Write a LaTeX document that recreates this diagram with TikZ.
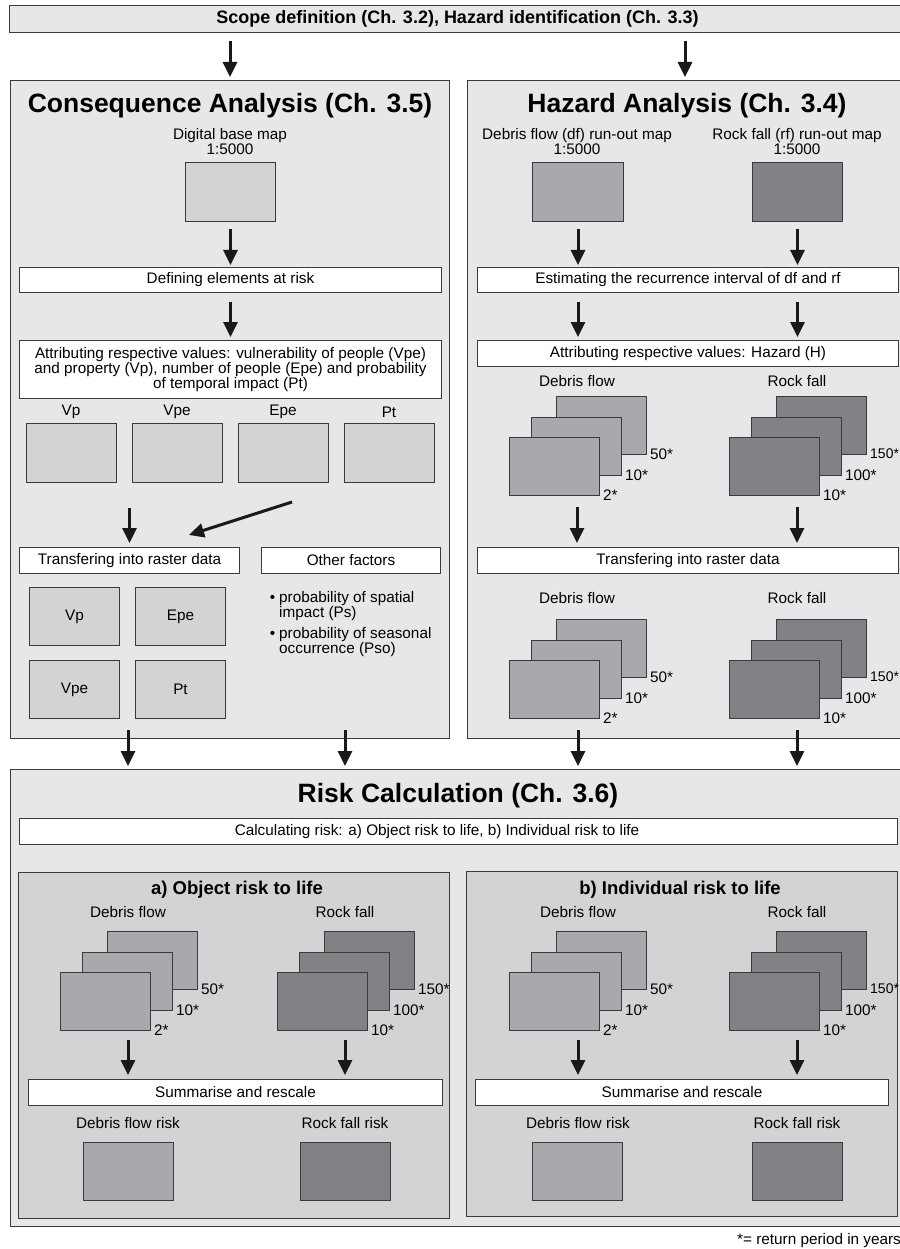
\documentclass[tikz,border=0pt]{standalone}
\usepackage{fontspec}
\setmainfont{Liberation Sans}
\usetikzlibrary{arrows.meta,calc}
\definecolor{panel}{HTML}{E6E7E8}
\definecolor{subp}{HTML}{D1D3D4}
\definecolor{deb}{HTML}{A7A9AC}
\definecolor{rockc}{HTML}{808285}
\definecolor{edge}{HTML}{3A3A3A}
\setlength\lineskiplimit{-8pt}
\newcommand\mapstack[7]{%
  \node[map,fill=#4] (#1b) at ({#2+47},{#3-41}) {};
  \node[map,fill=#4] (#1m) at ({#2+22},{#3-20}) {};
  \node[map,fill=#4] (#1f) at (#2,#3) {};
  \node[stl] (#1bl) at ([xshift=3pt,yshift=1pt]#1b.south east) {#5};
  \node[stl] (#1ml) at ([xshift=3pt,yshift=1pt]#1m.south east) {#6};
  \node[stl] (#1fl) at ([xshift=3pt,yshift=1pt]#1f.south east) {#7};
}
\newcommand\smalllab[1]{{\fontsize{14}{15}\selectfont #1}}
\begin{document}
\begin{tikzpicture}[x=1pt,y=-1pt,
  font=\fontsize{15.3}{15}\selectfont,
  box/.style={draw=edge,line width=1pt,anchor=north west,inner sep=0pt,align=center},
  wbox/.style={box,fill=white},
  map/.style={box,minimum width=90pt,minimum height=58pt},
  arr/.style={line width=3pt,draw=black!90,-{Triangle[length=15pt,width=14pt]}},
  lbl/.style={inner sep=0pt,align=center},
  stl/.style={inner sep=0pt,anchor=west},
  ttl/.style={inner sep=0pt,font=\fontsize{26.5}{28}\selectfont\bfseries},
  subttl/.style={inner sep=0pt,font=\fontsize{18.5}{20}\selectfont\bfseries},
]
\useasboundingbox[fill=white] (0,0) rectangle (899,1249);

% ---------- top bar ----------
\node[box,fill=panel,minimum width=896pt,minimum height=27pt,
      font=\fontsize{18}{20}\selectfont\bfseries] (bar) at (9,5)
      {Scope definition (Ch. 3.2), Hazard identification (Ch. 3.3)};

% ---------- panels ----------
\node[box,fill=panel,minimum width=439pt,minimum height=658pt] (cons) at (10,80) {};
\node[box,fill=panel,minimum width=438pt,minimum height=658pt] (haz) at (467,80) {};
\node[box,fill=panel,minimum width=895pt,minimum height=457pt] (risk) at (10,769) {};
\node[box,fill=subp,minimum width=431pt,minimum height=346pt] (suba) at (18,872) {};
\node[box,fill=subp,minimum width=431pt,minimum height=345pt] (subb) at (466,871) {};

% ---------- consequence analysis ----------
\node[ttl] (ctitle) at (230,105.5) {Consequence Analysis (Ch. 3.5)};
\node[lbl] (bmlab) at (230,142) {Digital base map\\1:5000};
\node[map,fill=subp,minimum width=90pt,minimum height=59pt] (bm) at (185,162) {};
\node[wbox,minimum width=422pt,minimum height=25pt] (def) at (19,267) {Defining elements at risk};
\node[wbox,minimum width=422pt,minimum height=58pt] (att) at (19,340)
  {Attributing respective values: vulnerability of people (Vpe)\\and property (Vp), number of people (Epe) and probability\\of temporal impact (Pt)};
\node[lbl] (lvp) at (71,412) {Vp};
\node[lbl] (lvpe) at (177,412) {Vpe};
\node[lbl] (lepe) at (283,412) {Epe};
\node[lbl] (lpt) at (389,412) {Pt};
\node[map,fill=subp,minimum height=59pt] (rvp) at (26,423) {};
\node[map,fill=subp,minimum height=59pt] (rvpe) at (132,423) {};
\node[map,fill=subp,minimum height=59pt] (repe) at (238,423) {};
\node[map,fill=subp,minimum height=59pt] (rpt) at (344,423) {};
\node[wbox,minimum width=220pt,minimum height=26pt] (ctr) at (19,547) {Transfering into raster data};
\node[wbox,minimum width=179pt,minimum height=26pt] (oth) at (261,547) {Other factors};
\node[map,fill=subp] (gvp) at (29,587) {Vp};
\node[map,fill=subp] (gepe) at (135,587) {Epe};
\node[map,fill=subp] (gvpe) at (29,660) {Vpe};
\node[map,fill=subp] (gpt) at (135,660) {Pt};
\node[inner sep=0pt,anchor=base] (bul1) at (272.5,602.5) {\textbullet};
\node[inner sep=0pt,anchor=north west,align=left] (ps) at (279,591) {probability of spatial\\impact (Ps)};
\node[inner sep=0pt,anchor=base] (bul2) at (272.5,638.5) {\textbullet};
\node[inner sep=0pt,anchor=north west,align=left] (pso) at (279,627) {probability of seasonal\\occurrence (Pso)};

% ---------- hazard analysis ----------
\node[ttl] (htitle) at (687,105.5) {Hazard Analysis (Ch. 3.4)};
\node[lbl] (dflab) at (577,142) {Debris flow (df) run-out map\\1:5000};
\node[lbl] (rflab) at (797,142) {Rock fall (rf) run-out map\\1:5000};
\node[map,fill=deb,minimum width=91pt,minimum height=59pt] (dfmap) at (532,162) {};
\node[map,fill=rockc,minimum width=90pt,minimum height=59pt] (rfmap) at (752,162) {};
\node[wbox,minimum width=421pt,minimum height=25pt] (est) at (477,267) {Estimating the recurrence interval of df and rf};
\node[wbox,minimum width=421pt,minimum height=26pt] (atth) at (477,340) {Attributing respective values: Hazard (H)};
\node[lbl] (hdf1) at (577,381) {Debris flow};
\node[lbl] (hrf1) at (797,381) {Rock fall};
\mapstack{hsd}{509}{437}{deb}{50*}{10*}{2*}
\mapstack{hsr}{729}{437}{rockc}{\smalllab{150*}}{100*}{10*}
\node[wbox,minimum width=421pt,minimum height=26pt] (htr) at (477,547) {Transfering into raster data};
\node[lbl] (hdf2) at (577,598) {Debris flow};
\node[lbl] (hrf2) at (797,598) {Rock fall};
\mapstack{htd}{509}{660}{deb}{50*}{10*}{2*}
\mapstack{htr}{729}{660}{rockc}{\smalllab{150*}}{100*}{10*}

% ---------- risk calculation ----------
\node[ttl] (rtitle) at (458,795.5) {Risk Calculation (Ch. 3.6)};
\node[wbox,minimum width=878pt,minimum height=26pt] (calc) at (19,818) {};
\node[lbl] (calctxt) at (437,831.5) {Calculating risk: a) Object risk to life, b) Individual risk to life};
% a)
\node[subttl] (atitle) at (237,890) {a) Object risk to life};
\node[lbl] (adf) at (128,912) {Debris flow};
\node[lbl] (arf) at (345,912) {Rock fall};
\mapstack{asd}{60}{972}{deb}{50*}{10*}{2*}
\mapstack{asr}{277}{972}{rockc}{150*}{100*}{10*}
\node[wbox,minimum width=414pt,minimum height=26pt] (asum) at (28,1079) {Summarise and rescale};
\node[lbl] (adfr) at (128,1123) {Debris flow risk};
\node[lbl] (arfr) at (345,1123) {Rock fall risk};
\node[map,fill=deb] (adfrisk) at (83,1142) {};
\node[map,fill=rockc] (arfrisk) at (300,1142) {};
% b)
\node[subttl] (btitle) at (680,890) {b) Individual risk to life};
\node[lbl] (bdf) at (578,912) {Debris flow};
\node[lbl] (brf) at (797,912) {Rock fall};
\mapstack{bsd}{509}{972}{deb}{50*}{10*}{2*}
\mapstack{bsr}{729}{972}{rockc}{\smalllab{150*}}{100*}{10*}
\node[wbox,minimum width=413pt,minimum height=26pt] (bsum) at (475,1079) {Summarise and rescale};
\node[lbl] (bdfr) at (578,1123) {Debris flow risk};
\node[lbl] (brfr) at (797,1123) {Rock fall risk};
\node[map,fill=deb] (bdfrisk) at (532,1142) {};
\node[map,fill=rockc] (brfrisk) at (752,1142) {};

\node[inner sep=0pt,anchor=base west] (foot) at (737,1244) {*= return period in years};

% ---------- connectors ----------
\draw[arr,shorten <=8pt,shorten >=3pt] (bar.south -| ctitle) -- (cons.north -| ctitle);
\draw[arr,shorten <=8pt,shorten >=3pt] ([xshift=-2pt]bar.south -| htitle) -- ([xshift=-2pt]haz.north -| htitle);
\draw[arr,shorten <=7pt,shorten >=2pt] (bm.south) -- (bm.south |- def.north);
\draw[arr,shorten <=9pt,shorten >=3pt] (def.south -| bm) -- (att.north -| bm);
\draw[arr,shorten <=25pt,shorten >=4pt] (rvp.south -| ctr.north) -- (ctr.north);
\coordinate (dgs) at (292,502);
\coordinate (dge) at (189,535);
\draw[arr,shorten >=0pt] (dgs) -- (dge);
\coordinate (co1) at (128,730);
\coordinate (co2) at (345,730);
\draw[arr,shorten >=3pt] (co1) -- (co1 |- risk.north);
\draw[arr,shorten >=3pt] (co2) -- (co2 |- risk.north);

\draw[arr,shorten <=7pt,shorten >=2pt] (dfmap.south) -- (dfmap.south |- est.north);
\draw[arr,shorten <=7pt,shorten >=2pt] (rfmap.south) -- (rfmap.south |- est.north);
\draw[arr,shorten <=9pt,shorten >=3pt] (est.south -| dfmap) -- (atth.north -| dfmap);
\draw[arr,shorten <=9pt,shorten >=3pt] (est.south -| rfmap) -- (atth.north -| rfmap);
\draw[arr,shorten <=11pt,shorten >=4pt] (hsdf.south -| hdf1) -- (htr.north -| hdf1);
\draw[arr,shorten <=11pt,shorten >=4pt] (hsrf.south -| hrf1) -- (htr.north -| hrf1);
\coordinate (ho1) at (578,730);
\coordinate (ho2) at (797,730);
\draw[arr,shorten >=3pt] (ho1) -- (ho1 |- risk.north);
\draw[arr,shorten >=3pt] (ho2) -- (ho2 |- risk.north);

\draw[arr,shorten <=9pt,shorten >=4pt] (asdf.south -| adf) -- (asum.north -| adf);
\draw[arr,shorten <=9pt,shorten >=4pt] (asrf.south -| arf) -- (asum.north -| arf);
\draw[arr,shorten <=9pt,shorten >=4pt] (bsdf.south -| bdf) -- (bsum.north -| bdf);
\draw[arr,shorten <=9pt,shorten >=4pt] (bsrf.south -| brf) -- (bsum.north -| brf);
\end{tikzpicture}
\end{document}
